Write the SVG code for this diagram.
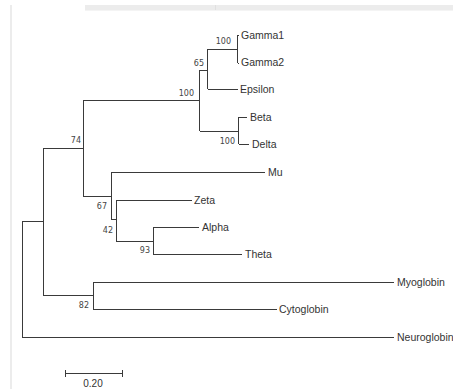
<svg xmlns="http://www.w3.org/2000/svg" width="453" height="389" viewBox="0 0 453 389">
<style>
.br{stroke:#3a3a3a;stroke-width:1;fill:none;shape-rendering:crispEdges}
.lf{font-family:"Liberation Sans",Arial,sans-serif;font-size:10.5px;fill:#333}
.bs{font-family:"DejaVu Sans",sans-serif;font-size:8px;fill:#444;text-anchor:end}
</style>
<rect width="453" height="389" fill="#fff"/>
<g id="chrome">
<rect x="85" y="5" width="368" height="5" fill="#ececec"/>
<rect x="85" y="10" width="368" height="1" fill="#f4f4f4"/>
<rect x="215" y="5" width="1" height="5" fill="#e0e0e0"/>
<rect x="10" y="5" width="2" height="384" fill="#ececec"/>
</g>
<g id="connectors" class="br">
<path d="M237.5,35V63M237.5,35H239M237.5,63H239"/>
<path d="M207.5,49V89M207.5,49H237M207.5,89H238"/>
<path d="M199.5,70V131M83,100.5H199.5M199.5,70.5H207"/>
<path d="M199.5,131.5H239M238.5,117V144M238.5,117.5H247M238.5,144.5H249"/>
<path d="M83.5,100V196M83,196.5H111"/>
<path d="M111.5,172V219M111,172.5H265M111,219.5H116"/>
<path d="M116.5,200V241M116,200.5H192M116,241.5H153"/>
<path d="M153.5,227V254M153,227.5H199M153,254.5H242"/>
<path d="M43.5,148V295M43,148.5H83M43,295.5H93"/>
<path d="M22.5,221V337M22,221.5H43M22,337.5H394"/>
<path d="M93.5,282V309M93,282.5H394M93,309.5H277"/>
<path d="M65,373.5H123M65.5,370V377M122.5,370V377"/>
</g>
<g id="leaves">
<g id="n-gamma1"><text class="lf" x="241" y="39">Gamma1</text></g>
<g id="n-gamma2"><text class="lf" x="241" y="66">Gamma2</text></g>
<g id="n-epsilon"><text class="lf" x="240" y="93">Epsilon</text></g>
<g id="n-beta"><text class="lf" x="250" y="121">Beta</text></g>
<g id="n-delta"><text class="lf" x="252" y="148">Delta</text></g>
<g id="n-mu"><text class="lf" x="268" y="176">Mu</text></g>
<g id="n-zeta"><text class="lf" x="194" y="204">Zeta</text></g>
<g id="n-alpha"><text class="lf" x="202" y="231">Alpha</text></g>
<g id="n-theta"><text class="lf" x="245" y="258">Theta</text></g>
<g id="n-myoglobin"><text class="lf" x="397" y="286">Myoglobin</text></g>
<g id="n-cytoglobin"><text class="lf" x="279" y="313">Cytoglobin</text></g>
<g id="n-neuroglobin"><text class="lf" x="397" y="341">Neuroglobin</text></g>
</g>
<g id="support">
<text class="bs" x="231" y="44">100</text>
<text class="bs" x="204" y="66">65</text>
<text class="bs" x="194" y="96">100</text>
<text class="bs" x="235" y="144">100</text>
<text class="bs" x="81" y="143">74</text>
<text class="bs" x="107" y="209">67</text>
<text class="bs" x="113" y="233">42</text>
<text class="bs" x="150" y="253">93</text>
<text class="bs" x="89" y="308">82</text>
</g>
<g id="scale"><text class="lf" x="93" y="387" text-anchor="middle" style="font-size:10px">0.20</text></g>
</svg>
